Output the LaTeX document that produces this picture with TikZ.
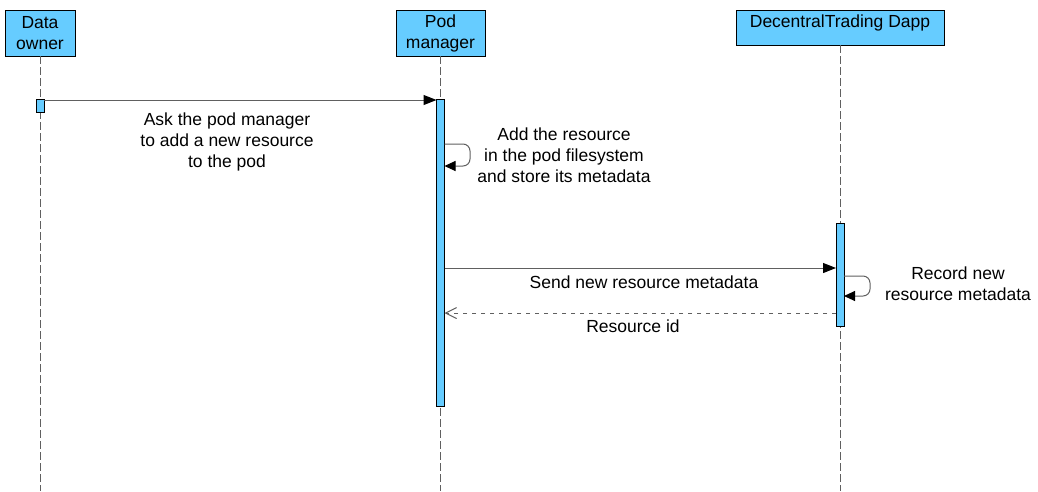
\documentclass[tikz,border=0pt]{standalone}
\usepackage{fontspec}
\setmainfont{Liberation Sans}
\usetikzlibrary{arrows.meta}
\definecolor{boxfill}{RGB}{102,204,255}
\definecolor{wire}{RGB}{96,96,96}
\begin{document}
\begin{tikzpicture}[x=1pt,y=-1pt,
  every node/.style={font=\fontsize{17.5}{21}\selectfont, text=black, inner sep=0pt, outer sep=0pt},
  actor/.style={draw=black, fill=boxfill, line width=0.9pt, anchor=north west, align=center},
  activation/.style={draw=black, fill=boxfill, line width=0.9pt, anchor=north west,
    minimum width=8pt},
  lifeline/.style={draw=wire, line width=1pt, dash pattern=on 8pt off 3pt},
  callmsg/.style={draw=wire, line width=1pt, -{Triangle[length=13pt,width=10pt,fill=black,color=black]}},
  selfmsg/.style={draw=wire, line width=1pt, rounded corners=7pt,
    -{Triangle[length=11pt,width=10pt,fill=black,color=black]}},
  replymsg/.style={draw=wire, line width=1pt, dash pattern=on 4.5pt off 4.5pt,
    -{Straight Barb[length=11pt,width=11pt,color=wire]}},
  msglabel/.style={align=center}
]
\useasboundingbox (0,0) rectangle (1038,491);
\fill[white] (0,0) rectangle (1038,491);

% participants
\node[actor, minimum width=70pt, minimum height=46pt] (owner) at (5,10) {Data\\owner};
\node[actor, minimum width=89pt, minimum height=46pt] (pod) at (396,10) {Pod\\manager};
\node[actor, minimum width=208pt, minimum height=35pt] (dapp) at (736,10) {};
\node[anchor=base] (dappname) at (840,27) {DecentralTrading Dapp};

% lifeline ends
\coordinate (owner-end) at (40,491);
\coordinate (pod-end) at (440.5,491);
\coordinate (dapp-end) at (840,491);

\draw[lifeline] (owner.south) -- (owner-end);
\draw[lifeline] (pod.south) -- (pod-end);
\draw[lifeline] (dapp.south) -- (dapp-end);

% activation bars
\node[activation, minimum height=13pt] (act-owner) at (36,99) {};
\node[activation, minimum height=307pt] (act-pod) at (436.5,99) {};
\node[activation, minimum height=103pt] (act-dapp) at (836,223) {};

% message rows
\coordinate (row1) at (0,100);
\coordinate (row3) at (0,268);
\coordinate (row4) at (0,313);
\coordinate (loop1a) at (470,144);
\coordinate (loop1b) at (470,166);
\coordinate (loop2a) at (870,276);
\coordinate (loop2b) at (870,296);

% owner -> pod manager
\draw[callmsg] (act-owner.east |- row1) -- (act-pod.west |- row1);
\node[msglabel] (lbl1) at (227,141.5) {Ask the pod manager\\to add a new resource\\to the pod};

% pod manager self call
\draw[selfmsg] (act-pod.east |- loop1a) -- (loop1a) -- (loop1b) -- (act-pod.east |- loop1b);
\node[msglabel] (lbl2) at (564,155.7) {Add the resource\\in the pod filesystem\\and store its metadata};

% pod manager -> dapp
\draw[callmsg] (act-pod.east |- row3) -- (act-dapp.west |- row3);
\node[anchor=base] (lbl3) at (644,288) {Send new resource metadata};

% dapp self call
\draw[selfmsg] (act-dapp.east |- loop2a) -- (loop2a) -- (loop2b) -- (act-dapp.east |- loop2b);
\node[msglabel] (lbl4) at (958,284) {Record new\\resource metadata};

% dapp -> pod manager reply
\draw[replymsg] (act-dapp.west |- row4) -- (act-pod.east |- row4);
\node[anchor=base] (lbl5) at (633,332) {Resource id};
\end{tikzpicture}
\end{document}
